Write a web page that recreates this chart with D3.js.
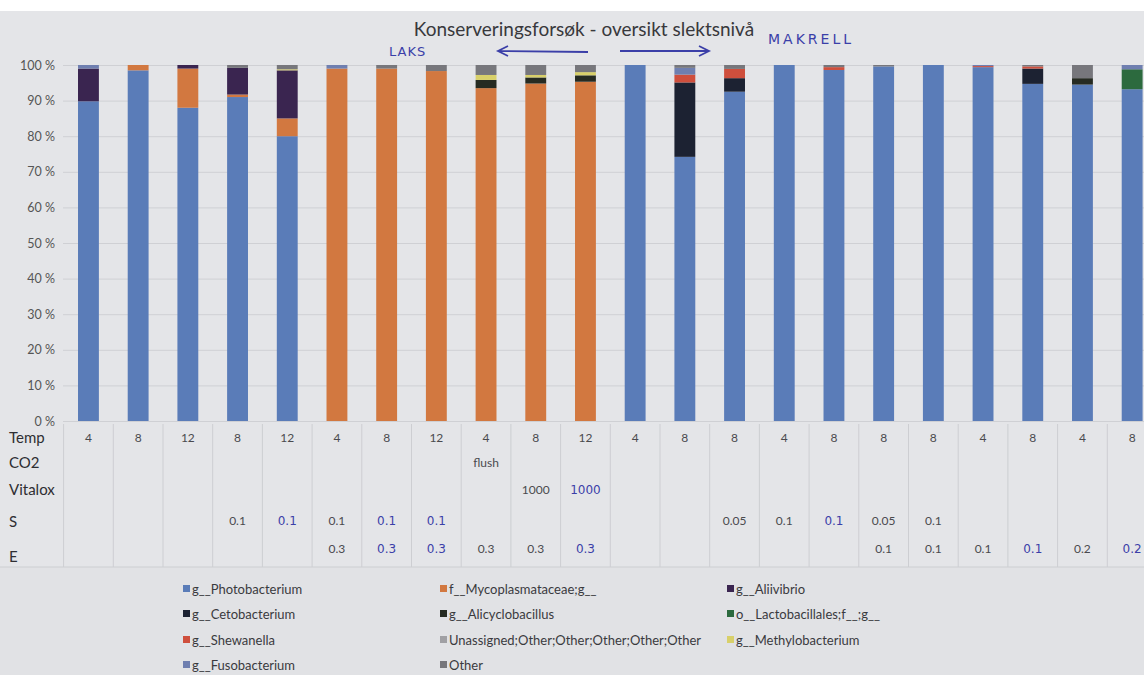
<!DOCTYPE html>
<html>
<head>
<meta charset="utf-8">
<script src="https://cdn.jsdelivr.net/npm/d3@7"></script>
<style>
  body { margin: 0; background: #e4e5e8; }
  svg { display: block; font-family: Lato, "Open Sans", sans-serif; }
</style>
</head>
<body>
<div id="chart"></div>
<script>
// -----------------------------------------------------------------------------
// Data
// -----------------------------------------------------------------------------

var seriesNames = [
  "g__Photobacterium", "f__Mycoplasmataceae;g__", "g__Aliivibrio",
  "g__Cetobacterium", "g__Alicyclobacillus", "o__Lactobacillales;f__;g__",
  "g__Shewanella", "Unassigned;Other;Other;Other;Other;Other", "g__Methylobacterium",
  "g__Fusobacterium", "Other"
];

var photobacterium   = [89.8, 98.5, 88.0, 91.0, 80.0, 0, 0, 0, 0, 0, 0, 100, 74.2, 92.5, 100, 98.6, 99.6, 100, 99.4, 94.7, 94.5, 93.2];
var mycoplasmataceae = [0, 1.5, 11.0, 0.7, 5.0, 99.0, 99.0, 98.3, 93.5, 94.8, 95.3, 0, 0, 0, 0, 0, 0, 0, 0, 0, 0, 0];
var aliivibrio       = [9.2, 0, 1.0, 7.5, 13.5, 0, 0, 0, 0, 0, 0, 0, 0, 0, 0, 0, 0, 0, 0, 0, 0, 0];
var cetobacterium    = [0, 0, 0, 0, 0, 0, 0, 0, 0, 0, 0, 0, 20.9, 3.8, 0, 0, 0, 0, 0, 4.3, 0, 0];
var alicyclobacillus = [0, 0, 0, 0, 0, 0, 0, 0, 2.3, 1.7, 1.8, 0, 0, 0, 0, 0, 0, 0, 0, 0, 1.8, 0];
var lactobacillales  = [0, 0, 0, 0, 0, 0, 0, 0, 0, 0, 0, 0, 0, 0, 0, 0, 0, 0, 0, 0, 0, 5.6];
var shewanella       = [0, 0, 0, 0, 0, 0, 0, 0, 0, 0, 0, 0, 2.2, 2.6, 0, 0.8, 0, 0, 0.3, 0.6, 0, 0];
var unassigned       = [0, 0, 0, 0, 0, 0, 0, 0, 0, 0, 0, 0, 0, 0, 0, 0, 0, 0, 0, 0, 0, 0];
var methylobacterium = [0, 0, 0, 0, 0.3, 0, 0, 0, 1.4, 0.7, 0.9, 0, 0, 0, 0, 0, 0, 0, 0, 0, 0, 0];
var fusobacterium    = [1.0, 0, 0, 0, 0, 1.0, 0, 0, 0, 0, 0, 0, 1.9, 0, 0, 0, 0, 0, 0.3, 0, 0, 1.2];
var other            = [0, 0, 0, 0.8, 1.2, 0, 1.0, 1.7, 2.8, 2.8, 2.0, 0, 0.8, 1.1, 0, 0.6, 0.4, 0, 0, 0.4, 3.7, 0];

var seriesValues = [photobacterium, mycoplasmataceae, aliivibrio, cetobacterium, alicyclobacillus,
  lactobacillales, shewanella, unassigned, methylobacterium, fusobacterium, other];

var seriesColors = ["#5a7cb8", "#d27840", "#3a2550", "#1c2232", "#262b22", "#2c6a3e",
  "#cf4f3d", "#a0a0a4", "#d8d06a", "#6f7fb0", "#77777c"];

// table rows under the chart ("*" marks a hand-written entry)
var rowLabels = ["Temp", "CO2", "Vitalox", "S", "E"];
var tempRow    = ["4", "8", "12", "8", "12", "4", "8", "12", "4", "8", "12", "4", "8", "8", "4", "8", "8", "8", "4", "8", "4", "8"];
var co2Row     = ["", "", "", "", "", "", "", "", "flush", "", "", "", "", "", "", "", "", "", "", "", "", ""];
var vitaloxRow = ["", "", "", "", "", "", "", "", "", "1000", "*1000", "", "", "", "", "", "", "", "", "", "", ""];
var sRow       = ["", "", "", "0.1", "*0.1", "0.1", "*0.1", "*0.1", "", "", "", "", "", "0.05", "0.1", "*0.1", "0.05", "0.1", "", "", "", ""];
var eRow       = ["", "", "", "", "", "0.3", "*0.3", "*0.3", "0.3", "0.3", "*0.3", "", "", "", "", "", "0.1", "0.1", "0.1", "*0.1", "0.2", "*0.2"];
var tableRows = [tempRow, co2Row, vitaloxRow, sRow, eRow];

var yTicks = [0, 10, 20, 30, 40, 50, 60, 70, 80, 90, 100];

// -----------------------------------------------------------------------------
// Chart
// -----------------------------------------------------------------------------

var W = 1144, H = 675;
var handInk = "#3b3fa8";

var data = d3.range(tempRow.length).map(function(i) {
  var d = {idx: i};
  seriesNames.forEach(function(name, k) { d[name] = seriesValues[k][i]; });
  return d;
});

var layers = d3.stack().keys(seriesNames)(data);

var xScale = d3.scaleBand()
    .domain(d3.range(data.length))
    .range([63.6, 1157])
    .paddingInner(0.58)
    .paddingOuter(0.29);

var yScale = d3.scaleLinear()
    .domain([0, 100])
    .range([421, 65]);

var color = d3.scaleOrdinal().domain(seriesNames).range(seriesColors);

var svg = d3.select("#chart").append("svg")
    .attr("width", W)
    .attr("height", H);

svg.append("rect").attr("width", W).attr("height", H).attr("fill", "#e4e5e8");
svg.append("rect").attr("width", W).attr("height", 11).attr("fill", "#ffffff");

// title + handwritten notes
svg.append("text")
    .attr("x", 584).attr("y", 36)
    .attr("text-anchor", "middle")
    .attr("font-size", 19)
    .attr("fill", "#38383c")
    .text("Konserveringsforsøk - oversikt slektsnivå");

svg.append("text")
    .attr("x", 389).attr("y", 56)
    .attr("font-family", "DejaVu Sans")
    .attr("font-size", 13)
    .attr("letter-spacing", 1)
    .attr("fill", handInk)
    .text("LAKS");

svg.append("text")
    .attr("x", 768).attr("y", 44)
    .attr("font-family", "DejaVu Sans")
    .attr("font-size", 14)
    .attr("letter-spacing", 3)
    .attr("fill", handInk)
    .text("MAKRELL");

svg.append("path")
    .attr("d", "M588,52 L499,51 M508,46 L498,51 L508,56 M620,51 L708,51 M699,46 L709,51 L699,56")
    .attr("fill", "none")
    .attr("stroke", handInk)
    .attr("stroke-width", 1.8);

// gridlines
svg.append("g")
    .attr("class", "grid")
    .attr("transform", "translate(63,0)")
    .call(d3.axisLeft(yScale)
        .tickValues(yTicks)
        .tickSize(-(W - 63))
        .tickFormat(""))
    .call(function(g) {
      g.select(".domain").remove();
      g.selectAll("line").attr("stroke", "#cfd0d4").attr("stroke-width", 1);
    });

// y labels
svg.append("g")
    .attr("transform", "translate(55,0)")
    .call(d3.axisLeft(yScale)
        .tickValues(yTicks)
        .tickSize(0)
        .tickPadding(0)
        .tickFormat(function(d) { return d + " %"; }))
    .call(function(g) {
      g.select(".domain").remove();
      g.selectAll("text")
          .attr("font-family", "Lato, sans-serif")
          .attr("font-size", 12.5)
          .attr("fill", "#555");
    });

// bars
svg.append("g")
  .selectAll("g")
  .data(layers)
  .enter().append("g")
    .attr("fill", function(d) { return color(d.key); })
  .selectAll("rect")
  .data(function(d) { return d; })
  .enter().append("rect")
    .attr("x", function(d) { return xScale(d.data.idx); })
    .attr("width", xScale.bandwidth())
    .attr("y", function(d) { return yScale(d[1]); })
    .attr("height", function(d) { return Math.max(0, yScale(d[0]) - yScale(d[1])); });

// data table
var tableTop = 424, tableBottom = 567;
var rowY = [438, 463, 490, 521, 549];
var labelY = [438, 463, 490, 522, 557];

svg.append("rect")
    .attr("x", 0).attr("y", tableBottom)
    .attr("width", W).attr("height", H - tableBottom)
    .attr("fill", "#e1e2e5");

svg.append("g")
  .selectAll("line")
  .data(d3.range(data.length + 1))
  .enter().append("line")
    .attr("x1", function(i) { return xScale.range()[0] + xScale.step() * i; })
    .attr("x2", function(i) { return xScale.range()[0] + xScale.step() * i; })
    .attr("y1", tableTop)
    .attr("y2", tableBottom)
    .attr("stroke", "#cdced2");

svg.append("line")
    .attr("x1", 0).attr("x2", W)
    .attr("y1", tableBottom).attr("y2", tableBottom)
    .attr("stroke", "#cdced2");

svg.append("g")
  .selectAll("text")
  .data(rowLabels)
  .enter().append("text")
    .attr("x", 9)
    .attr("y", function(d, i) { return labelY[i]; })
    .attr("dy", "0.35em")
    .attr("font-size", 15)
    .attr("fill", "#2e2e32")
    .text(function(d) { return d; });

tableRows.forEach(function(row, r) {
  var cells = row.map(function(v, i) { return {v: v, i: i}; })
      .filter(function(c) { return c.v !== ""; });
  svg.append("g")
    .selectAll("text")
    .data(cells)
    .enter().append("text")
      .attr("x", function(c) { return xScale(c.i) + xScale.bandwidth() / 2; })
      .attr("y", rowY[r])
      .attr("dy", "0.35em")
      .attr("text-anchor", "middle")
      .attr("font-family", function(c) { return c.v[0] === "*" ? "DejaVu Sans" : "Lato, sans-serif"; })
      .attr("font-size", 12)
      .attr("fill", function(c) { return c.v[0] === "*" ? handInk : "#4a4a4e"; })
      .text(function(c) { return c.v.replace("*", ""); });
});

// legend
var legendCols = [183, 440, 727];
var legendRows = [589, 614, 640, 665];

var legend = svg.append("g")
  .selectAll("g")
  .data(seriesNames)
  .enter().append("g")
    .attr("transform", function(d, i) {
      return "translate(" + legendCols[i % 3] + "," + legendRows[Math.floor(i / 3)] + ")";
    });

legend.append("rect")
    .attr("x", 0).attr("y", -4)
    .attr("width", 7).attr("height", 7)
    .attr("fill", function(d) { return color(d); });

legend.append("text")
    .attr("x", 9)
    .attr("dy", "0.35em")
    .attr("font-size", 13)
    .attr("fill", "#3a3a3e")
    .text(function(d) { return d; });
</script>
</body>
</html>
